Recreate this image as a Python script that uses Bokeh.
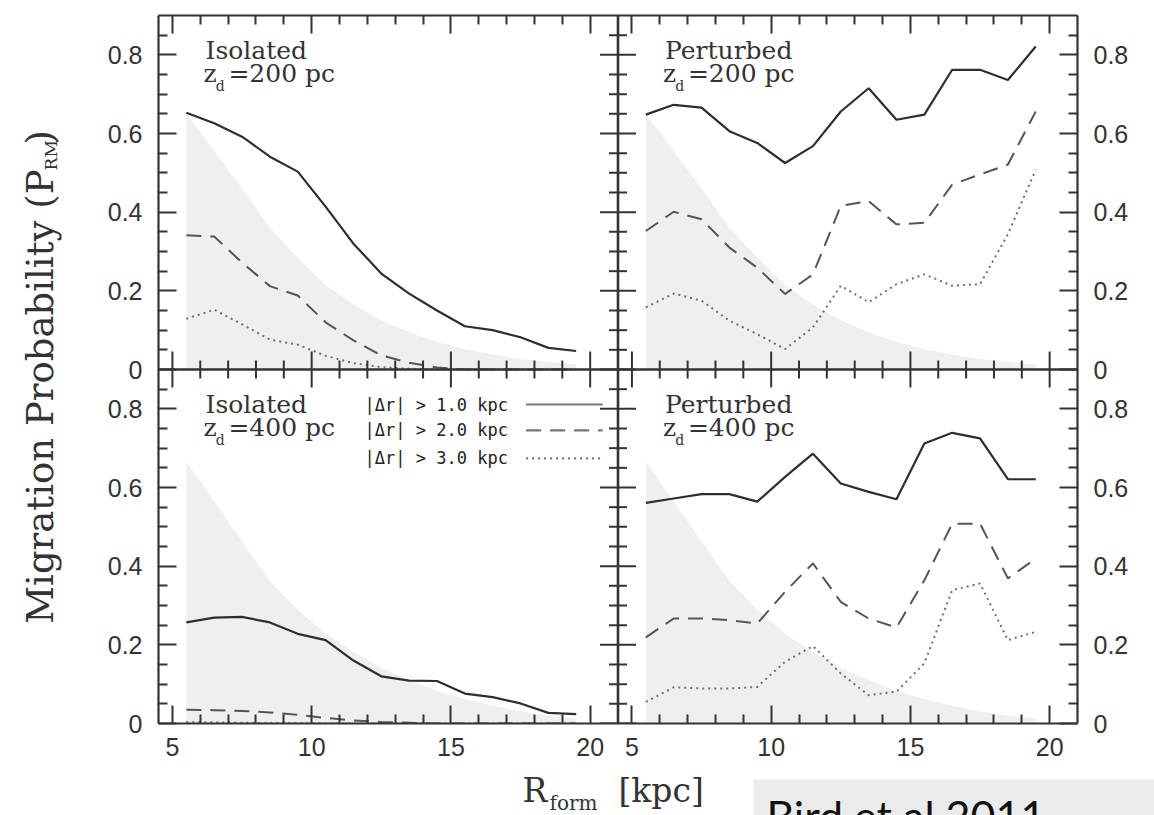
import math
from bokeh.plotting import figure
from bokeh.layouts import row, column
from bokeh.models import Range1d, LinearAxis, FixedTicker, CustomJSTickFormatter, Span, Label
from bokeh.core.properties import value
from bokeh.embed import file_html
from bokeh.resources import INLINE

# ---------------- data ----------------
R_FORM = [5.5, 6.5, 7.5, 8.5, 9.5, 10.5, 11.5, 12.5, 13.5, 14.5, 15.5, 16.5, 17.5, 18.5, 19.5]

ISO200_DR1 = [0.653, 0.626, 0.592, 0.541, 0.503, 0.414, 0.320, 0.244, 0.193, 0.150, 0.110, 0.100, 0.082, 0.055, 0.047]
ISO200_DR2 = [0.341, 0.338, 0.272, 0.212, 0.188, 0.120, 0.074, 0.036, 0.017, 0.005, 0.0, 0.0, 0.0, 0.0, 0.0]
ISO200_DR3 = [0.129, 0.152, 0.115, 0.076, 0.063, 0.035, 0.016, 0.006, 0.002, 0.0, 0.0, 0.0, 0.0, 0.0, 0.0]

PERT200_DR1 = [0.648, 0.673, 0.666, 0.606, 0.576, 0.525, 0.568, 0.656, 0.715, 0.635, 0.648, 0.762, 0.762, 0.736, 0.821]
PERT200_DR2 = [0.352, 0.401, 0.382, 0.310, 0.259, 0.192, 0.242, 0.416, 0.428, 0.369, 0.373, 0.470, 0.496, 0.521, 0.656]
PERT200_DR3 = [0.158, 0.193, 0.175, 0.124, 0.090, 0.052, 0.107, 0.213, 0.171, 0.217, 0.242, 0.213, 0.217, 0.344, 0.508]

ISO400_DR1 = [0.257, 0.269, 0.271, 0.257, 0.228, 0.212, 0.160, 0.120, 0.109, 0.108, 0.076, 0.067, 0.051, 0.027, 0.024]
ISO400_DR2 = [0.035, 0.034, 0.032, 0.028, 0.022, 0.014, 0.008, 0.004, 0.002, 0.0, 0.0, 0.0, 0.0, 0.0, 0.0]
ISO400_DR3 = [0.004, 0.003, 0.002, 0.001, 0.001, 0.0, 0.0, 0.0, 0.0, 0.0, 0.0, 0.0, 0.0, 0.0, 0.0]

PERT400_DR1 = [0.561, 0.572, 0.583, 0.583, 0.564, 0.627, 0.686, 0.610, 0.589, 0.570, 0.712, 0.739, 0.725, 0.621, 0.621]
PERT400_DR2 = [0.219, 0.267, 0.267, 0.263, 0.254, 0.335, 0.407, 0.309, 0.267, 0.244, 0.364, 0.508, 0.508, 0.369, 0.419]
PERT400_DR3 = [0.055, 0.092, 0.089, 0.089, 0.093, 0.157, 0.197, 0.127, 0.072, 0.081, 0.153, 0.339, 0.356, 0.212, 0.233]

SHADE_200 = [0.650, 0.555, 0.460, 0.360, 0.285, 0.215, 0.165, 0.125, 0.095, 0.070, 0.052, 0.038, 0.027, 0.019, 0.013]
SHADE_400 = [0.665, 0.565, 0.462, 0.362, 0.290, 0.228, 0.182, 0.142, 0.110, 0.083, 0.062, 0.045, 0.031, 0.020, 0.012]

X_MAJOR = [5, 10, 15, 20]
X_MAJOR_LABELS = ["5", "10", "15", "20"]
X_MINOR = [6, 7, 8, 9, 11, 12, 13, 14, 16, 17, 18, 19]
Y_MAJOR = [0.0, 0.2, 0.4, 0.6, 0.8]
Y_MAJOR_LABELS = ["0", "0.2", "0.4", "0.6", "0.8"]
Y_MINOR = [0.05, 0.10, 0.15, 0.25, 0.30, 0.35, 0.45, 0.50, 0.55, 0.65, 0.70, 0.75, 0.85]

PANEL_NAMES = ["Isolated", "Perturbed", "Isolated", "Perturbed"]
PANEL_ZD = ["=200 pc", "=200 pc", "=400 pc", "=400 pc"]
LEGEND_LABELS = ["|\u0394r| > 1.0 kpc", "|\u0394r| > 2.0 kpc", "|\u0394r| > 3.0 kpc"]
Y_TITLE = ["Migration Probability (P", "RM", ")"]
X_TITLE = ["R", "form", "[kpc]"]
CREDIT = "Bird et al 2011"

# ---------------- layout ----------------
X_LO, X_HI = 4.5, 21.0
Y_LO, Y_HI = 0.0, 0.9
XW = X_HI - X_LO
YH = Y_HI - Y_LO

W, H = 1154, 815
TITLE_W = 70          # strip holding the vertical title
TOP_H = 768           # upper row (plot + y title)
BOT_H = H - TOP_H     # strip holding x title and credit box
MAIN_W = W - TITLE_W

FRAME = "#333333"
TXT = "#333333"
SHADE = "#efefef"
STYLES = [
    dict(line_dash="solid", line_color="#2e2e2e", line_width=2.2),
    dict(line_dash="15 9", line_color="#555555", line_width=2.0),
    dict(line_dash="2 4", line_color="#707070", line_width=2.0),
]


def bare(width, height):
    f = figure(width=width, height=height, output_backend="svg", toolbar_location=None,
               x_range=Range1d(0, width), y_range=Range1d(0, height),
               x_axis_location=None, y_axis_location=None, min_border=0)
    f.grid.visible = False
    f.outline_line_color = None
    f.background_fill_color = "white"
    f.border_fill_color = "white"
    return f


# ---------------- main plot ----------------
p = figure(width=MAIN_W, height=TOP_H, output_backend="svg", toolbar_location=None,
           x_range=Range1d(X_LO, X_LO + 2 * XW), y_range=Range1d(Y_LO, Y_LO + 2 * YH),
           x_axis_location=None, y_axis_location=None, min_border=0,
           min_border_left=158 - TITLE_W, min_border_right=77,
           min_border_top=15, min_border_bottom=TOP_H - 723)
p.grid.visible = False
p.outline_line_color = None
p.background_fill_color = "white"
p.border_fill_color = "white"

x_major_pos = [t + c * XW for c in (0, 1) for t in X_MAJOR]
x_major_lab = [l for c in (0, 1) for l in X_MAJOR_LABELS]
x_minor_pos = [t + c * XW for c in (0, 1) for t in X_MINOR]
y_major_pos = [t + r * YH for r in (0, 1) for t in Y_MAJOR]
y_major_lab = [l for r in (0, 1) for l in Y_MAJOR_LABELS]
y_minor_pos = [t + r * YH for r in (0, 1) for t in Y_MINOR]

fmt_code = """
for (let i = 0; i < pos.length; i++) {
  if (Math.abs(pos[i] - tick) < 1e-6) return lab[i];
}
return '';
"""
blank_code = "return '';"


def make_axis(kind, show):
    if kind == "x":
        ticker = FixedTicker(ticks=x_major_pos, minor_ticks=x_minor_pos)
        fmt = CustomJSTickFormatter(args=dict(pos=x_major_pos, lab=x_major_lab), code=fmt_code) if show \
            else CustomJSTickFormatter(code=blank_code)
    else:
        ticker = FixedTicker(ticks=y_major_pos, minor_ticks=y_minor_pos)
        fmt = CustomJSTickFormatter(args=dict(pos=y_major_pos, lab=y_major_lab), code=fmt_code) if show \
            else CustomJSTickFormatter(code=blank_code)
    ax = LinearAxis(ticker=ticker, formatter=fmt)
    ax.axis_line_width = 2.2
    ax.axis_line_color = FRAME
    ax.major_tick_in = 18
    ax.major_tick_out = 0
    ax.minor_tick_in = 9
    ax.minor_tick_out = 0
    ax.major_tick_line_width = 2
    ax.minor_tick_line_width = 2
    ax.major_tick_line_color = FRAME
    ax.minor_tick_line_color = FRAME
    ax.major_label_text_font = "Liberation Sans"
    ax.major_label_text_font_size = "25px" if show else "0px"
    ax.major_label_text_color = TXT
    ax.major_label_standoff = (14 if kind == "x" else 16) if show else 0
    return ax


p.add_layout(make_axis("x", True), "below")
p.add_layout(make_axis("x", False), "above")
p.add_layout(make_axis("y", True), "left")
p.add_layout(make_axis("y", True), "right")

panels = [
    (0, 1, [ISO200_DR1, ISO200_DR2, ISO200_DR3], SHADE_200),
    (1, 1, [PERT200_DR1, PERT200_DR2, PERT200_DR3], SHADE_200),
    (0, 0, [ISO400_DR1, ISO400_DR2, ISO400_DR3], SHADE_400),
    (1, 0, [PERT400_DR1, PERT400_DR2, PERT400_DR3], SHADE_400),
]

for c, r, series, shade in panels:
    xo, yo = c * XW, r * YH
    xs = [x + xo for x in R_FORM]
    p.varea(x=xs, y1=[yo] * len(xs), y2=[s + yo for s in shade], fill_color=SHADE)
for c, r, series, shade in panels:
    xo, yo = c * XW, r * YH
    xs = [x + xo for x in R_FORM]
    for vals, st in zip(series, STYLES):
        p.line(x=xs, y=[v + yo for v in vals], **st)

# central dividing lines with two-sided ticks
p.add_layout(Span(location=X_HI, dimension="height", line_color=FRAME, line_width=2.6))
p.add_layout(Span(location=Y_HI, dimension="width", line_color=FRAME, line_width=2.6))
p.scatter(x=[X_HI] * len(y_major_pos), y=y_major_pos, marker="dash", size=36,
          line_color=FRAME, line_width=2)
p.scatter(x=[X_HI] * len(y_minor_pos), y=y_minor_pos, marker="dash", size=18,
          line_color=FRAME, line_width=2)
p.scatter(x=x_major_pos, y=[Y_HI] * len(x_major_pos), marker="dash", size=36, angle=math.pi / 2,
          line_color=FRAME, line_width=2)
p.scatter(x=x_minor_pos, y=[Y_HI] * len(x_minor_pos), marker="dash", size=18, angle=math.pi / 2,
          line_color=FRAME, line_width=2)

# panel captions (positions are centres of the text lines)
for i, (c, r, series, shade) in enumerate(panels):
    xo, yo = c * XW, r * YH
    p.add_layout(Label(x=xo + 6.19, y=yo + 0.811, text=PANEL_NAMES[i], text_font="DejaVu Serif",
                       text_font_size="25px", text_color=TXT, text_baseline="middle"))
    p.add_layout(Label(x=xo + 6.12, y=yo + 0.752, text="z", text_font="DejaVu Serif",
                       text_font_size="25px", text_color=TXT, text_baseline="middle"))
    p.add_layout(Label(x=xo + 6.56, y=yo + 0.722, text="d", text_font="DejaVu Serif",
                       text_font_size="14px", text_color=TXT, text_baseline="middle"))
    p.add_layout(Label(x=xo + 7.01, y=yo + 0.752, text=PANEL_ZD[i], text_font="DejaVu Serif",
                       text_font_size="25px", text_color=TXT, text_baseline="middle"))

# legend inside the lower-left panel
LEG_Y = [0.811, 0.745, 0.674]
for lab, ly, st in zip(LEGEND_LABELS, LEG_Y, STYLES):
    p.add_layout(Label(x=11.9, y=ly, text=lab, text_font="DejaVu Sans Mono", text_font_size="17px",
                       text_color="#222222", text_baseline="middle"))
    p.line(x=[17.7, 20.45], y=[ly, ly], line_dash=st["line_dash"], line_color="#777777",
           line_width=2.2)

# ---------------- vertical title strip ----------------
yt = bare(TITLE_W, TOP_H)
yt.text(x=[40], y=[TOP_H - 167], text=[Y_TITLE[0]], angle=math.pi / 2, text_align="right",
        text_baseline="middle", text_font=value("DejaVu Serif"), text_font_size="37px",
        text_color=TXT)
yt.text(x=[50], y=[TOP_H - 168], text=[Y_TITLE[1]], angle=math.pi / 2, text_align="left",
        text_baseline="middle", text_font=value("DejaVu Serif"), text_font_size="17px",
        text_color=TXT)
yt.text(x=[40], y=[TOP_H - 140], text=[Y_TITLE[2]], angle=math.pi / 2, text_align="left",
        text_baseline="middle", text_font=value("DejaVu Serif"), text_font_size="37px",
        text_color=TXT)

# ---------------- bottom strip: x title + credit ----------------
bt = bare(W, BOT_H)


def by(py):
    return H - py


bt.quad(left=[753], right=[W], bottom=[0], top=[by(779)], fill_color="#ebebeb", line_color=None)
bt.text(x=[522], y=[by(790)], text=[X_TITLE[0]], text_font=value("DejaVu Serif"),
        text_font_size="33px", text_color=TXT, text_baseline="middle")
bt.text(x=[549], y=[by(802)], text=[X_TITLE[1]], text_font=value("DejaVu Serif"),
        text_font_size="20px", text_color=TXT, text_baseline="middle")
bt.text(x=[618], y=[by(790)], text=[X_TITLE[2]], text_font=value("DejaVu Serif"),
        text_font_size="33px", text_color=TXT, text_baseline="middle")
bt.text(x=[766], y=[by(814.5)], text=[CREDIT], text_font=value("Lato"), text_font_size="43px",
        text_color="#111111", text_baseline="middle")

layout = column(row(yt, p, spacing=0), bt, spacing=0)

open("out.html", "w").write(file_html(layout, INLINE))
